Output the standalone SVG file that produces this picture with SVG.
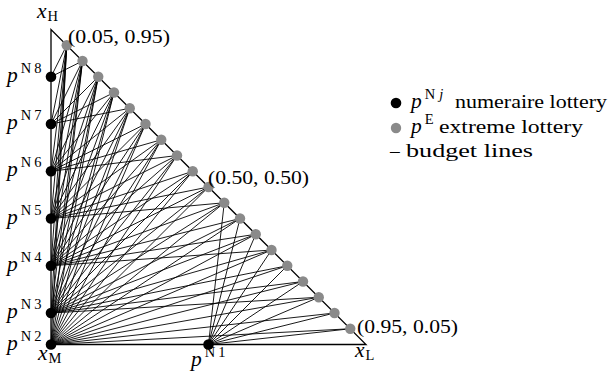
<svg xmlns="http://www.w3.org/2000/svg" width="616" height="375" viewBox="0 0 616 375">
<style>
text{font-family:"Liberation Serif","DejaVu Serif",serif;fill:#000}
.t{font-size:21.5px}
.u{font-size:19.5px}
.it{font-style:italic}
.s{font-size:14.5px}
.bl{fill:#000}
.gr{fill:#8a8a8a}
.ln{stroke:#000;stroke-width:0.9;fill:none}
.edge{stroke:#000;stroke-width:1.3;fill:none}
</style>
<rect width="616" height="375" fill="#fff"/>
<g id="triangle">
<path class="edge" d="M51 29.5L51 344.5L366 344.5Z"/>
</g>
<g id="connectors">
<path class="ln" d="M51 344.5L66.75 45.25M51 344.5L82.5 61M51 344.5L98.25 76.75M51 344.5L114 92.5M51 344.5L129.75 108.25M51 344.5L145.5 124M51 344.5L161.25 139.75M51 344.5L177 155.5M51 344.5L192.75 171.25M51 344.5L208.5 187M51 344.5L224.25 202.75M51 344.5L240 218.5M51 344.5L255.75 234.25M51 344.5L271.5 250M51 344.5L287.25 265.75M51 344.5L303 281.5M51 344.5L318.75 297.25M51 344.5L334.5 313M51 344.5L350.25 328.75"/>
<path class="ln" d="M51 313L66.75 45.25M51 313L82.5 61M51 313L98.25 76.75M51 313L114 92.5M51 313L129.75 108.25M51 313L145.5 124M51 313L161.25 139.75M51 313L177 155.5M51 313L192.75 171.25M51 313L208.5 187M51 313L224.25 202.75M51 313L240 218.5M51 313L255.75 234.25M51 313L271.5 250M51 313L287.25 265.75M51 313L303 281.5M51 313L318.75 297.25"/>
<path class="ln" d="M51 265.75L66.75 45.25M51 265.75L82.5 61M51 265.75L98.25 76.75M51 265.75L114 92.5M51 265.75L129.75 108.25M51 265.75L145.5 124M51 265.75L161.25 139.75M51 265.75L177 155.5M51 265.75L192.75 171.25M51 265.75L208.5 187M51 265.75L224.25 202.75M51 265.75L240 218.5M51 265.75L255.75 234.25M51 265.75L271.5 250"/>
<path class="ln" d="M51 218.5L66.75 45.25M51 218.5L82.5 61M51 218.5L98.25 76.75M51 218.5L114 92.5M51 218.5L129.75 108.25M51 218.5L145.5 124M51 218.5L161.25 139.75M51 218.5L177 155.5M51 218.5L192.75 171.25M51 218.5L208.5 187M51 218.5L224.25 202.75"/>
<path class="ln" d="M51 171.25L66.75 45.25M51 171.25L82.5 61M51 171.25L98.25 76.75M51 171.25L114 92.5M51 171.25L129.75 108.25M51 171.25L145.5 124M51 171.25L161.25 139.75M51 171.25L177 155.5"/>
<path class="ln" d="M51 124L66.75 45.25M51 124L82.5 61M51 124L98.25 76.75M51 124L114 92.5M51 124L129.75 108.25"/>
<path class="ln" d="M51 76.75L66.75 45.25M51 76.75L82.5 61"/>
<path class="ln" d="M208.5 344.5L224.25 202.75M208.5 344.5L240 218.5M208.5 344.5L255.75 234.25M208.5 344.5L271.5 250M208.5 344.5L287.25 265.75M208.5 344.5L303 281.5M208.5 344.5L318.75 297.25M208.5 344.5L334.5 313M208.5 344.5L350.25 328.75"/>
</g>
<g id="extreme-lotteries" class="gr">
<circle cx="66.75" cy="45.25" r="5.2"/><circle cx="82.5" cy="61" r="5.2"/><circle cx="98.25" cy="76.75" r="5.2"/><circle cx="114" cy="92.5" r="5.2"/><circle cx="129.75" cy="108.25" r="5.2"/><circle cx="145.5" cy="124" r="5.2"/><circle cx="161.25" cy="139.75" r="5.2"/><circle cx="177" cy="155.5" r="5.2"/><circle cx="192.75" cy="171.25" r="5.2"/><circle cx="208.5" cy="187" r="5.2"/><circle cx="224.25" cy="202.75" r="5.2"/><circle cx="240" cy="218.5" r="5.2"/><circle cx="255.75" cy="234.25" r="5.2"/><circle cx="271.5" cy="250" r="5.2"/><circle cx="287.25" cy="265.75" r="5.2"/><circle cx="303" cy="281.5" r="5.2"/><circle cx="318.75" cy="297.25" r="5.2"/><circle cx="334.5" cy="313" r="5.2"/><circle cx="350.25" cy="328.75" r="5.2"/>
</g>
<g id="pN1"><circle class="bl" cx="208.5" cy="344.5" r="5.3"/><text class="t" x="191" y="366"><tspan class="it">p</tspan><tspan class="s" dx="3" dy="-9">N</tspan><tspan class="s" dx="3">1</tspan></text></g>
<g id="pN2"><circle class="bl" cx="51" cy="344.5" r="5.3"/><text class="t" x="7" y="349.5"><tspan class="it">p</tspan><tspan class="s" dx="3" dy="-9">N</tspan><tspan class="s" dx="3">2</tspan></text></g>
<g id="pN3"><circle class="bl" cx="51" cy="313" r="5.3"/><text class="t" x="7" y="318"><tspan class="it">p</tspan><tspan class="s" dx="3" dy="-9">N</tspan><tspan class="s" dx="3">3</tspan></text></g>
<g id="pN4"><circle class="bl" cx="51" cy="265.75" r="5.3"/><text class="t" x="7" y="270.75"><tspan class="it">p</tspan><tspan class="s" dx="3" dy="-9">N</tspan><tspan class="s" dx="3">4</tspan></text></g>
<g id="pN5"><circle class="bl" cx="51" cy="218.5" r="5.3"/><text class="t" x="7" y="223.5"><tspan class="it">p</tspan><tspan class="s" dx="3" dy="-9">N</tspan><tspan class="s" dx="3">5</tspan></text></g>
<g id="pN6"><circle class="bl" cx="51" cy="171.25" r="5.3"/><text class="t" x="7" y="176.25"><tspan class="it">p</tspan><tspan class="s" dx="3" dy="-9">N</tspan><tspan class="s" dx="3">6</tspan></text></g>
<g id="pN7"><circle class="bl" cx="51" cy="124" r="5.3"/><text class="t" x="7" y="129"><tspan class="it">p</tspan><tspan class="s" dx="3" dy="-9">N</tspan><tspan class="s" dx="3">7</tspan></text></g>
<g id="pN8"><circle class="bl" cx="51" cy="76.75" r="5.3"/><text class="t" x="7" y="81.75"><tspan class="it">p</tspan><tspan class="s" dx="3" dy="-9">N</tspan><tspan class="s" dx="3">8</tspan></text></g>
<g id="xH"><text class="t" x="37" y="18"><tspan class="it">x</tspan><tspan class="s" dx="1" dy="3">H</tspan></text></g>
<g id="xM"><text class="t" x="38" y="360"><tspan class="it">x</tspan><tspan class="s" dx="1" dy="3">M</tspan></text></g>
<g id="xL"><text class="t" x="355" y="357"><tspan class="it">x</tspan><tspan class="s" dx="1" dy="3">L</tspan></text></g>
<g id="coords">
<text class="u" x="68" y="43" textLength="102" lengthAdjust="spacingAndGlyphs">(0.05, 0.95)</text>
<text class="u" x="208" y="184" textLength="101" lengthAdjust="spacingAndGlyphs">(0.50, 0.50)</text>
<text class="u" x="357" y="333" textLength="101" lengthAdjust="spacingAndGlyphs">(0.95, 0.05)</text>
</g>
<g id="legend">
<circle class="bl" cx="396" cy="103" r="5.3"/>
<text class="t" x="411" y="108"><tspan class="it">p</tspan><tspan class="s" dx="3" dy="-9">N</tspan><tspan class="s it" dx="4">j</tspan></text>
<text class="u" x="455" y="108" textLength="152" lengthAdjust="spacingAndGlyphs">numeraire lottery</text>
<circle class="gr" cx="396" cy="128" r="5.2"/>
<text class="t" x="411" y="133"><tspan class="it">p</tspan><tspan class="s" dx="3" dy="-9">E</tspan></text>
<text class="u" x="439" y="133" textLength="144" lengthAdjust="spacingAndGlyphs">extreme lottery</text>
<text class="u" x="390" y="157">–</text>
<text class="u" x="406" y="157" textLength="127" lengthAdjust="spacingAndGlyphs">budget lines</text>
</g>
</svg>
